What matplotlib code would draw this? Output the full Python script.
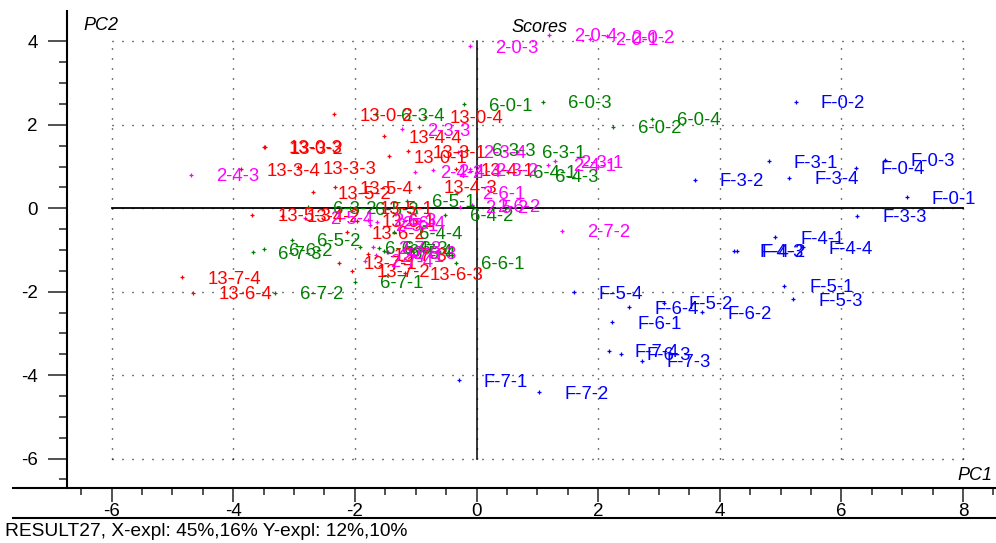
import numpy as np
import matplotlib
matplotlib.use("Agg")
import matplotlib.pyplot as plt
from matplotlib.lines import Line2D

plt.rcParams["font.family"] = ["Liberation Sans", "DejaVu Sans"]
plt.rcParams["axes.unicode_minus"] = False

# sampling times and replicates: label = "<sample>-<time>-<replicate>"
times = [0, 3, 4, 5, 6, 7]
reps = [1, 2, 3, 4]

# PC1 / PC2 scores, ordered time-major, replicate-minor
f_pc1 = [7.08, 5.25, 6.72, 6.24, 4.81, 3.59, 6.26, 5.14, 4.91, 4.28, 4.24, 5.37,
         5.06, 3.08, 5.21, 1.60, 2.23, 3.71, 2.38, 2.51, -0.29, 1.03, 2.72, 2.18]
f_pc2 = [0.27, 2.55, 1.16, 0.97, 1.13, 0.68, -0.18, 0.73, -0.69, -1.02, -1.02, -0.93,
         -1.86, -2.27, -2.18, -2.01, -2.73, -2.49, -3.49, -2.37, -4.12, -4.41, -3.66, -3.42]

s6_pc1 = [-0.21, 2.24, 1.09, 2.88, 0.66, -2.77, -0.16, -1.65, 0.52, -0.52, 0.88, -1.36,
          -1.14, -3.03, -2.08, -1.47, -0.34, -3.50, -1.60, -1.92, -2.00, -3.31, -3.68, -1.52]
s6_pc2 = [2.50, 1.96, 2.55, 2.15, 1.36, 0.02, 1.40, 2.25, 0.88, -0.16, 0.79, -0.57,
          0.18, -0.76, 0.00, -1.05, -1.31, -0.98, -0.95, -0.93, -1.76, -2.03, -1.05, -1.02]

s13_pc1 = [-1.44, -2.34, -3.50, -0.85, -1.13, -3.48, -2.94, -3.87, -0.34, -3.20, -0.95, -1.52,
           -2.00, -2.69, -3.69, -2.33, -1.97, -2.13, -1.18, -4.66, -2.26, -2.05, -1.78, -4.84]
s13_pc2 = [1.25, 2.25, 1.47, 2.20, 1.37, 1.46, 0.99, 0.94, 0.94, -0.18, 0.52, 1.73,
           0.01, 0.39, -0.16, 0.50, -0.30, -0.58, -1.56, -2.03, -1.31, -1.50, -1.10, -1.65]

s2_pc1 = [1.87, 2.14, -0.11, 1.20, 1.29, -0.11, -1.23, -0.30, 1.18, -1.01, -4.70, -0.72,
          -1.75, -0.27, -1.78, -2.82, -0.32, -0.07, -1.46, -1.64, -1.65, 1.41, -1.70, -1.83]
s2_pc2 = [4.06, 4.13, 3.89, 4.16, 1.13, 0.94, 1.90, 1.35, 1.04, 0.88, 0.80, 0.91,
          -0.40, 0.04, -0.28, -0.23, 0.37, 0.07, -1.05, -0.33, -1.12, -0.54, -0.93, -1.26]

samples = ["F", "6", "13", "2"]
sample_colors = ["#0000ff", "#008000", "#ff0000", "#ff00ff"]
sample_pc1 = [f_pc1, s6_pc1, s13_pc1, s2_pc1]
sample_pc2 = [f_pc2, s6_pc2, s13_pc2, s2_pc2]

W, H = 996, 543
fig = plt.figure(figsize=(W / 100, H / 100), dpi=100)
ax = fig.add_axes([67 / W, 55 / H, 929 / W, 477 / H])
ax.set_xlim(-6.735, 8.544)
ax.set_ylim(-6.707, 4.731)

for side in ("top", "right", "bottom"):
    ax.spines[side].set_visible(False)
ax.spines["left"].set_linewidth(1.5)

# dotted grid on the even units
grid_x = np.arange(-6, 9, 2)
grid_y = np.arange(-6, 5, 2)
for gx in grid_x:
    ax.plot([gx, gx], [-6, 4], color="black", lw=1.0, linestyle=(0, (0.75, 6.45)), zorder=1)
for gy in grid_y:
    ax.plot([-6, 8], [gy, gy], color="black", lw=1.0, linestyle=(0, (0.75, 6.45)), zorder=1)
ax.plot([-6, 8], [0, 0], color="black", lw=1.3, zorder=2)
ax.plot([0, 0], [-6, 4], color="black", lw=1.1, zorder=2)

# ticks
ax.set_xticks(grid_x)
ax.set_xticks(np.arange(-6.5, 8.51, 0.5), minor=True)
ax.set_yticks(grid_y)
ax.set_yticks(np.arange(-6.5, 4.01, 0.5), minor=True)
ax.tick_params(axis="y", which="major", direction="out", length=14, width=1.2,
               color="#333333", labelsize=13.5, pad=7)
ax.tick_params(axis="y", which="minor", direction="out", length=6, width=1.2, color="#333333")
ax.tick_params(axis="x", which="major", direction="out", length=10, width=1.2,
               color="#333333", labelsize=13.5, pad=0.5)
ax.tick_params(axis="x", which="minor", direction="out", length=5, width=1.2, color="#333333")

# scores with sample labels
for name, col, xs, ys in zip(samples, sample_colors, sample_pc1, sample_pc2):
    ax.plot(xs, ys, linestyle="none", marker="+", markersize=3.5, mew=0.9, color=col, zorder=3)
    labels = [f"{name}-{t}-{r}" for t in times for r in reps]
    for lab, x, y in zip(labels, xs, ys):
        ax.annotate(lab, (x, y), xytext=(18, 0), textcoords="offset points",
                    ha="left", va="center_baseline", fontsize=13.3, color=col, zorder=4)

# frame lines of the horizontal axis
fig.add_artist(Line2D([13 / W, 1], [55 / H, 55 / H], color="black", lw=1.5))
fig.add_artist(Line2D([13 / W, 1], [25 / H, 25 / H], color="black", lw=1.5))

fig.text(83 / W, 1 - 26 / H, "PC2", style="italic", fontsize=13, ha="left", va="center")
fig.text(511 / W, 1 - 27 / H, "Scores", style="italic", fontsize=13, ha="left", va="center")
fig.text(957 / W, 1 - 476 / H, "PC1", style="italic", fontsize=13, ha="left", va="center")
fig.text(5 / W, 1 - 531 / H, "RESULT27, X-expl: 45%,16% Y-expl: 12%,10%",
         fontsize=13.8, ha="left", va="center")

fig.savefig("out.png", dpi=100)
